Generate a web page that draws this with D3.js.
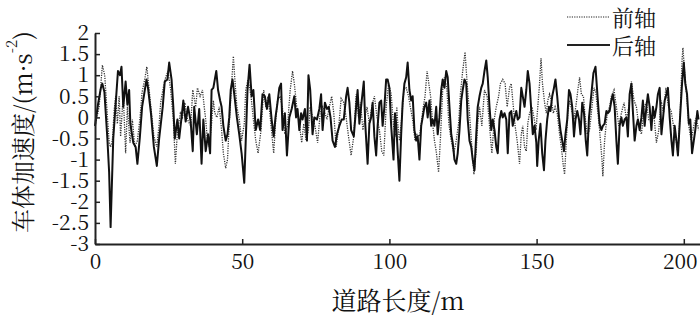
<!DOCTYPE html>
<html>
<head>
<meta charset="utf-8">
<script src="https://cdn.jsdelivr.net/npm/d3@7"></script>
<style>
  body { margin: 0; background: #fff; }
  text { font-family: "Noto Serif CJK SC", serif; fill: #111; }
</style>
</head>
<body>
<div id="chart"></div>
<script>
// road distance (m) / body acceleration (m/s^2)
var rearAxle = [
  [0,-0.2],[1,0.3],[2,0.7],[2.5,0.8],[3.2,0.6],[4.2,-0.5],[4.8,-1.3],[5.3,-2.6],[6.2,-0.5],[7,0.3],[7.8,1.1],[8.5,1.0],[9,1.2],[9.6,0.25],[10.4,0.85],[11,0.3],[11.6,0.65],[12,-0.15],[13,-0.6],[13.8,-0.7],[14.4,-1.1],[15.2,-0.5],[16,0.25],[16.7,0.55],[17.5,0.9],[18,0.7],[19,0.1],[20,-0.7],[21,-1.15],[21.8,-0.5],[23,0.25],[23.7,0.85],[24.6,0.9],[25.2,1.3],[26,0.9],[26.6,0.25],[27.1,-0.5],[28,-0.05],[28.6,-0.5],[29.4,0],[30,0.4],[30.8,-0.1],[31.6,0.25],[32.5,-0.1],[33.2,-0.8],
  [33.7,0.25],[34.6,-0.4],[35.4,0.2],[36.2,-1.1],[36.8,-0.05],[37.6,-0.8],[38.4,-0.4],[39.1,-0.85],[39.6,0.65],[40.2,0.7],[40.7,0.9],[41.2,1.1],[41.8,0.65],[42.5,0.4],[43,0.25],[43.6,-0.2],[44.4,-0.55],[45,-0.4],[45.6,0],[46.1,0.65],[46.7,0.9],[47.3,0.55],[48.2,0],[49,-0.4],[49.8,-0.85],[50.7,-1.55],[51.2,-0.55],[51.8,0.65],[52.5,1.25],[53.2,0.5],[53.8,0.65],[54.6,-0.3],[55.4,-0.05],[56.1,-0.3],[56.9,0.55],[57.7,0.5],[58.4,0.2],[59.2,0.55],[60,-0.05],[60.7,-0.45],[61.3,0],[62,0.35],[62.6,0.7],[63.2,0.8],[63.7,-0.3],[64.5,0.1],[65.2,-0.9],[66,0],[66.8,0.2],
  [67.7,0.5],[68.3,0],[68.8,0.2],[69.4,-0.3],[70,0.1],[70.5,-0.05],[71.3,0.2],[72,-0.55],[72.5,1.0],[73.1,0.65],[73.9,-0.4],[74.5,0],[75.4,-0.05],[76.2,0.2],[76.8,0.55],[77.3,-0.3],[78.1,0.35],[78.8,0.2],[79.4,0.25],[80,0],[80.7,-0.55],[81.5,-0.7],[82.2,-0.4],[83,-0.2],[83.8,-0.05],[84.5,-0.05],[85.3,0.5],[85.8,0.7],[86.4,0.35],[87,-0.3],[87.9,-0.45],[88.7,0.25],[89.2,0.65],[89.8,-0.15],[90.6,0.4],[91.3,0.85],[91.8,-0.15],[92.6,-1.1],[93.2,-0.15],[93.8,0],[94.3,0.35],[94.9,-0.45],[95.5,-0.9],[96,-0.2],[96.6,0.35],[97.2,0.4],[97.7,-0.2],[98.3,0.25],[98.9,0.9],[99.4,0.9],[100,0.7],[100.6,-0.2],[101.4,-1.0],
  [101.9,0.1],[102.3,-0.15],[102.8,-0.8],[103.4,-1.5],[104,-0.4],[104.5,0.35],[105.1,0.8],[105.7,0.95],[106.2,1.3],[106.8,0.65],[107.4,0.4],[107.9,0.5],[108.5,-0.3],[109.1,-0.55],[109.6,-0.45],[110.2,-1.0],[110.8,-0.2],[111.3,0],[111.9,0.25],[112.5,0.35],[113,0],[113.6,0.4],[114.2,-0.2],[114.7,-0.05],[115.3,-0.2],[115.9,0.25],[116.4,-0.4],[117,0],[117.6,0.65],[118.1,0.9],[118.7,0.7],[119.3,1.1],[119.8,0.95],[120.4,0.25],[121,-0.4],[121.5,-0.6],[122.1,-1.0],[122.7,-1.1],[123.2,-0.85],[123.8,-0.3],[124.4,0.4],[124.9,0.65],[125.5,0.9],[126.1,0.8],[126.6,-0.05],[127.2,-0.55],[127.8,-0.7],[128.3,-1.0],[128.9,-1.25],[129.5,-0.4],[130,0.25],[130.6,0.5],[131.2,0.7],[131.7,0.8],[132.3,1.1],[132.9,1.35],[133.4,0.95],[134,0.25],[134.6,-0.3],[135.1,-0.05],
  [135.7,-0.3],[136.3,-0.7],[136.8,-0.85],[137.4,-0.05],[138,0.15],[138.5,0],[139.1,0.1],[139.7,-0.05],[140.2,-0.85],[140.8,0.1],[141.4,0.15],[141.9,-0.2],[142.5,0],[143.1,0.15],[143.6,-0.05],[144.2,0],[144.8,0.7],[145.3,0.5],[145.9,0.25],[146.5,0.65],[147,1.1],[147.6,0.8],[148.2,0.15],[148.7,-0.4],[149.3,-0.2],[149.9,-0.6],[150.2,-1.15],[150.7,-0.55],[151.3,-0.15],[151.9,-0.85],[152.5,-1.25],[153,-0.55],[153.6,-0.05],[154.2,0.25],[154.7,0.15],[155.3,0.5],[155.9,0.7],[156.4,0.9],[157,0.5],[157.6,0],[158.1,-0.3],[158.7,-0.55],[159.3,-0.8],[159.8,-0.4],[160.4,-0.05],[161,0.65],[161.5,0.55],[162.1,0.25],[162.7,-0.45],[163.2,-0.05],[163.8,0.15],[164.4,-0.05],[164.9,-0.4],[165.5,0.35],[166.1,0.1],[166.7,-0.55],[167.2,-0.9],[167.8,0],[168.6,0.55],[169.3,1.05],
  [170,1.2],[170.8,0.4],[171.4,-0.15],[172,-0.3],[172.5,-0.2],[173.1,-0.15],[173.7,0.15],[174.2,0.1],[174.8,0.15],[175.4,0.4],[175.9,0.55],[176.5,0.25],[177.1,-0.55],[177.6,-1.1],[178.2,-0.2],[178.8,0],[179.3,-0.2],[179.9,-0.05],[180.5,0],[181,-0.45],[181.6,0.55],[182.2,0.8],[182.7,0.15],[183.3,-0.55],[183.9,-0.2],[184.4,-0.05],[185,-0.3],[185.6,0],[186.1,0.4],[186.7,-0.2],[187.3,0.25],[187.8,0.55],[188.4,0.25],[189,-0.3],[189.5,0.25],[190.1,0],[190.7,0.25],[191.2,0.55],[191.8,0.7],[192.4,-0.4],[192.9,-0.05],[193.5,0.4],[194.1,0.55],[194.6,0.7],[195.2,0],[195.8,-0.55],[196.3,-0.9],[196.9,-0.2],[197.5,-0.55],[198,-0.9],[198.6,-0.15],[199.4,0.8],[200,1.3],[200.5,0.8],[201.1,0.55],[201.7,-0.15],[202.2,-0.05],[202.8,-0.85],[203.4,-0.55],[203.9,-0.3],[204.6,0.15],[205,-0.05]
];

var frontAxle = [
  [0,-0.2],[1.4,0.25],[2.5,1.24],[3.3,1.0],[4,0.25],[4.8,-0.6],[5.3,-0.7],[5.9,-0.55],[6.5,0.15],[7,0.5],[7.6,-0.15],[8.2,0.5],[8.7,-0.45],[9.6,0.55],[10.4,-0.85],[11,0.25],[11.9,-0.6],[12.7,-0.05],[13.5,-0.7],[14.4,-0.55],[15.3,0],[16,0.6],[16.9,0.9],[17.6,1.2],[18.4,0.65],[19.2,0.1],[20,-0.45],[21,-0.7],[21.8,-0.15],[22.3,0.35],[23.2,0.7],[24,0.95],[24.8,1.1],[25.7,0.65],[26.6,-0.05],[27.3,-1.1],[28,-0.35],[29,0.1],[29.7,0],[30.5,0.35],[31.4,-0.05],[32.5,-0.2],[33.2,0.65],
  [34.2,0.25],[34.8,0.7],[35.7,0.5],[36.5,0.65],[37.1,0.25],[37.6,-0.05],[38.2,-0.55],[38.8,-0.7],[39.6,-0.15],[40.2,0.4],[40.7,0.1],[41.4,0],[42.2,0.25],[43,-0.3],[43.6,-0.85],[44.4,-1.2],[45,-1.0],[45.6,-0.15],[46.4,0.8],[47,1.45],[47.5,0.9],[48.2,0.25],[49,-0.05],[49.8,-0.55],[50.7,-0.15],[51.2,0.65],[52,0.9],[53,0.5],[53.8,-0.05],[54.6,-0.55],[55.4,-0.85],[56.4,-0.3],[57.3,0.65],[58,0.25],[58.8,0.5],[59.8,-0.2],[60.7,-0.85],[61.3,-0.15],[62,0.4],[62.9,0.5],[63.7,0.2],[64.5,-0.4],[65.4,-0.2],[66.3,0.65],[67.1,1.1],
  [67.7,0.8],[68.6,0.2],[69.4,-0.15],[70.2,-0.6],[70.9,-0.15],[71.7,-0.55],[72.5,-0.3],[73.1,0.25],[73.9,0],[74.7,-0.2],[75.6,-0.6],[76.5,0.1],[77.3,0.25],[78.1,0.1],[78.8,-0.05],[79.6,0.25],[80.4,0.5],[81.1,0.1],[81.9,-0.7],[82.7,-0.3],[83.6,0.45],[84.5,0.35],[85.3,0],[86.1,-0.45],[87,-0.9],[87.9,-0.45],[88.7,0.55],[89.5,0],[90.2,0.35],[91,-0.3],[91.7,0],[92.4,0.25],[93.2,-0.15],[94,0.25],[94.9,0.5],[95.8,0],[96.6,-0.3],[97.4,-0.8],[98.1,-0.9],[98.9,0.25],[99.7,0.8],[100.6,0.55],[101.4,-0.2],
  [102,-0.45],[102.5,0.25],[102.9,-0.2],[103.4,-0.55],[104.2,0],[104.9,0.65],[105.7,0.7],[106.5,0.5],[107.1,0.25],[107.9,-0.05],[108.7,-0.55],[109.4,-0.4],[110.2,-0.45],[110.8,-0.15],[111.3,0.15],[112.1,0.5],[112.8,1.1],[113.4,0.8],[114,0.5],[114.7,-0.15],[115.3,-0.55],[115.9,-0.8],[116.7,-1.3],[117.3,-0.55],[118.1,0.65],[118.7,0.95],[119.5,0.7],[120.2,-0.15],[121,-0.55],[121.9,-0.85],[122.7,-0.55],[123.5,-0.15],[124.1,0.55],[124.9,1.1],[125.7,1.55],[126.4,0.8],[127.2,0.1],[128,-0.7],[128.7,-1.35],[129.5,-0.8],[130,-0.15],[130.6,0.25],[131.4,-0.2],[132.3,0.65],[133.2,0.5],[134,-0.2],[134.8,-0.85],[135.7,0],
  [136.3,0.25],[137.1,0.5],[137.7,0.8],[138.5,0.9],[139.3,0.8],[140,0.25],[140.8,0.7],[141.4,0.8],[141.9,0.4],[142.7,-0.2],[143.4,-0.55],[144.2,-1.1],[144.8,-0.4],[145.3,-0.2],[145.9,-0.7],[146.5,-0.8],[147,-0.15],[147.6,0.1],[148.4,0.25],[149.1,0],[149.8,-0.3],[150.4,0.25],[151,0.8],[151.5,1.4],[152,0.8],[152.7,0.35],[153.3,0.1],[153.8,0.4],[154.4,0.55],[155,0.4],[155.7,0.1],[156.3,0.25],[157,0.1],[157.8,-0.4],[158.4,-0.7],[159,-1.1],[159.5,-1.35],[160.1,-0.55],[160.6,0.1],[161.2,0.4],[162,0.15],[162.7,-0.05],[163.5,0.35],[164,0.65],[164.6,0.95],[165.2,0.55],[165.9,0.5],[166.5,0],[167.2,-0.4],[168,-0.3],[168.8,0.25],[169.5,0.7],
  [170.1,0.6],[170.6,0.25],[171.4,-0.3],[172.2,-1.0],[172.5,-1.4],[173.1,-0.55],[174,0.1],[174.8,0.25],[175.4,0.5],[176.3,0.65],[177.1,0.25],[177.9,-0.2],[178.8,0.1],[179.7,0.35],[180.5,-0.05],[181.3,0.25],[182.2,0.85],[183.1,0.4],[183.9,0.25],[184.7,-0.2],[185.6,-0.4],[186.5,0.25],[187.3,0.35],[188.1,-0.05],[189,-0.05],[189.9,0],[190.7,-0.6],[191.5,-0.3],[192.3,0.4],[193.1,0.1],[193.9,0.7],[194.8,0.25],[195.7,0.15],[196.5,-0.2],[197.4,-0.55],[198,-0.85],[198.8,0.15],[199.4,1.35],[199.7,1.65],[200.3,1.05],[201,0.5],[201.7,-0.2],[202.5,-0.55],[203.5,-0.15],[204.3,0],[205,-0.3]
];

var xTicks = [0, 50, 100, 150, 200];
var yTicks = [-3, -2.5, -2, -1.5, -1, -0.5, 0, 0.5, 1, 1.5, 2];
var legendNames = ["前轴", "后轴"];

var width = 700, height = 319;
var serif = "'Noto Serif CJK SC', serif";

var svg = d3.select("#chart").append("svg")
  .attr("width", width)
  .attr("height", height);

var x = d3.scaleLinear().domain([0, 205.5]).range([95, 700]);
var y = d3.scaleLinear().domain([-3, 2]).range([244, 33]);

var line = d3.line()
  .x(function(d) { return x(d[0]); })
  .y(function(d) { return y(d[1]); });

// front axle, dotted
svg.append("path")
  .datum(frontAxle)
  .attr("d", line)
  .attr("fill", "none")
  .attr("stroke", "#333")
  .attr("stroke-width", 1.3)
  .attr("stroke-dasharray", "1.2,1.2");

// rear axle, solid
svg.append("path")
  .datum(rearAxle)
  .attr("d", line)
  .attr("fill", "none")
  .attr("stroke", "#111")
  .attr("stroke-width", 2)
  .attr("stroke-linejoin", "round");

// axes
svg.append("g")
  .attr("transform", "translate(95,0)")
  .call(d3.axisLeft(y).tickValues(yTicks).tickSize(-5).tickSizeOuter(0).tickPadding(6)
    .tickFormat(function(d) { return String(d); }));

var xAxis = svg.append("g")
  .attr("transform", "translate(0,244)")
  .call(d3.axisBottom(x).tickValues(xTicks).tickSize(-5).tickSizeOuter(0).tickPadding(10));

svg.selectAll("g").attr("font-family", serif);
svg.selectAll(".domain").attr("stroke", "#222").attr("stroke-width", 2);
svg.selectAll(".tick line").attr("stroke", "#222").attr("stroke-width", 1.5);
svg.selectAll(".tick text")
  .style("font-family", serif)
  .style("font-size", "21px")
  .attr("fill", "#111");

// last x label sits right at the edge
xAxis.selectAll(".tick text")
  .attr("dx", function(d) { return d == 200 ? -4 : 0; });

// axis titles
var yTitle = svg.append("text")
  .attr("transform", "translate(21,132) rotate(-90)")
  .attr("text-anchor", "middle")
  .attr("dominant-baseline", "central")
  .style("font-size", "24px");
yTitle.append("tspan").text("车体加速度/(m·s");
yTitle.append("tspan").attr("baseline-shift", "super").style("font-size", "15px").text("-2");
yTitle.append("tspan").text(")");

svg.append("text")
  .attr("x", 398)
  .attr("y", 310)
  .attr("text-anchor", "middle")
  .style("font-size", "25px")
  .text("道路长度/m");

// legend
var legend = svg.selectAll(".legend")
  .data(legendNames).enter()
  .append("g")
  .attr("class", "legend")
  .attr("transform", function(d, i) { return "translate(567," + (17 + i * 28) + ")"; });

legend.append("line")
  .attr("x1", 0).attr("x2", 43)
  .attr("stroke", "#222")
  .attr("stroke-width", function(d, i) { return i == 0 ? 1.2 : 1.8; })
  .attr("stroke-dasharray", function(d, i) { return i == 0 ? "1.2,1.2" : null; });

legend.append("text")
  .attr("x", 45)
  .attr("y", 9)
  .style("font-size", "22px")
  .text(function(d) { return d; });
</script>
</body>
</html>
